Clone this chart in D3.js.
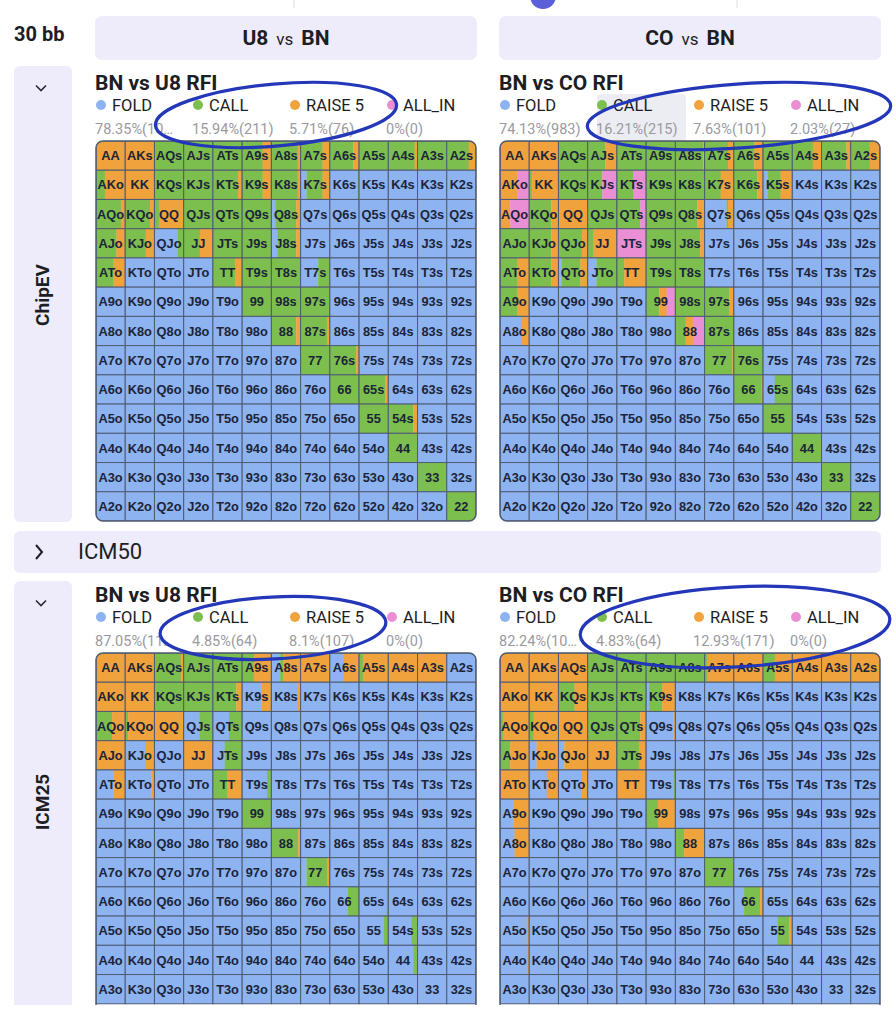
<!DOCTYPE html>
<html>
<head>
<meta charset="utf-8">
<script src="https://cdn.jsdelivr.net/npm/d3@7"></script>
<style>
  body { margin: 0; background: #fff; }
</style>
</head>
<body>
<svg id="chart"></svg>
<script>
const ranks = ["A", "K", "Q", "J", "T", "9", "8", "7", "6", "5", "4", "3", "2"];
const actions = ["FOLD", "CALL", "RAISE 5", "ALL_IN"];
const actionColors = ["#8db3f1", "#7cbf4f", "#f0a23d", "#ea8fd4"];

const stackLabel = "30 bb";
const matchups = [["U8", "BN"], ["CO", "BN"]];
const spotTitles = ["BN vs U8 RFI", "BN vs CO RFI"];
const models = ["ChipEV", "ICM50", "ICM25"];

// [hand, call, raise, allin] -- fold is whatever is left
const chipU8Mix = [
  ["AA", 0, 1, 0], ["AKs", 0, 1, 0], ["AQs", 1, 0, 0], ["AJs", 1, 0, 0], ["ATs", 1, 0, 0],
  ["A9s", .7, .3, 0], ["A8s", .9, .1, 0], ["A7s", .75, .25, 0], ["A6s", .8, .2, 0], ["A5s", 1, 0, 0],
  ["A4s", .9, .1, 0], ["A3s", 1, 0, 0], ["A2s", .75, .25, 0],
  ["AKo", .3, .7, 0], ["KK", 0, 1, 0], ["KQs", 1, 0, 0], ["KJs", 1, 0, 0], ["KTs", .85, .15, 0],
  ["K9s", .7, .3, 0], ["K8s", .9, .1, 0], ["K7s", .55, .25, 0], ["K6s", .05, 0, 0],
  ["AQo", .85, .15, 0], ["KQo", .85, .15, 0], ["QQ", .15, .85, 0], ["QJs", 1, 0, 0], ["QTs", 1, 0, 0],
  ["Q9s", 1, 0, 0], ["Q8s", .7, .15, 0],
  ["AJo", .7, .3, 0], ["KJo", .7, .3, 0], ["QJo", .2, 0, 0], ["JJ", .55, .45, 0], ["JTs", 1, 0, 0],
  ["J9s", 1, 0, 0], ["J8s", .65, .15, 0],
  ["ATo", .6, .4, 0], ["TT", .75, .25, 0], ["T9s", 1, 0, 0], ["T8s", 1, 0, 0], ["T7s", .4, 0, 0],
  ["99", 1, 0, 0], ["98s", 1, 0, 0], ["97s", 1, 0, 0],
  ["88", .85, .15, 0], ["87s", .9, .1, 0],
  ["77", 1, 0, 0], ["76s", .9, .1, 0],
  ["66", 1, 0, 0], ["65s", .9, .1, 0],
  ["55", 1, 0, 0], ["54s", .85, .15, 0],
  ["44", 1, 0, 0], ["33", 1, 0, 0], ["22", 1, 0, 0]
];

const chipCOMix = [
  ["AA", 0, 1, 0], ["AKs", 0, 1, 0], ["AQs", 1, 0, 0], ["AJs", .6, .4, 0], ["ATs", 1, 0, 0],
  ["A9s", 1, 0, 0], ["A8s", .95, .05, 0], ["A7s", .8, .2, 0], ["A6s", .7, .3, 0], ["A5s", 1, 0, 0],
  ["A4s", .7, .3, 0], ["A3s", .85, .15, 0], ["A2s", .65, .35, 0],
  ["AKo", 0, .6, .4], ["KK", .1, .9, 0], ["KQs", 1, 0, 0], ["KJs", .5, 0, .5], ["KTs", .55, 0, .45],
  ["K9s", 1, 0, 0], ["K8s", 1, 0, 0], ["K7s", .55, .45, 0], ["K6s", .8, .2, 0], ["K5s", .45, .4, 0],
  ["AQo", 0, .35, .65], ["KQo", .75, .25, 0], ["QQ", 0, 1, 0], ["QJs", 1, 0, 0], ["QTs", .8, 0, .2],
  ["Q9s", 1, 0, 0], ["Q8s", .75, .25, 0], ["Q7s", .05, .2, 0],
  ["AJo", 1, 0, 0], ["KJo", .75, .25, 0], ["QJo", .8, .2, 0], ["JJ", .2, .8, 0], ["JTs", 0, 0, 1],
  ["J9s", 1, 0, 0], ["J8s", .85, .15, 0],
  ["ATo", .6, .4, 0], ["KTo", .75, .25, 0], ["QTo", .65, .25, 0], ["JTo", .7, 0, 0], ["TT", .25, .75, 0],
  ["T9s", 1, 0, 0], ["T8s", 1, 0, 0],
  ["A9o", .6, .4, 0], ["99", .45, .25, .3], ["98s", 1, 0, 0], ["97s", .85, .15, 0],
  ["A8o", 0, .25, 0], ["88", .35, .25, .4], ["87s", 1, 0, 0],
  ["77", .95, .05, 0], ["76s", 1, 0, 0],
  ["66", .95, .05, 0], ["65s", .6, 0, 0],
  ["55", 1, 0, 0], ["44", 1, 0, 0], ["33", 1, 0, 0], ["22", 1, 0, 0]
];

const icmU8Mix = [
  ["AA", 0, 1, 0], ["AKs", 0, 1, 0], ["AQs", .9, .1, 0], ["AJs", 1, 0, 0], ["ATs", 1, 0, 0],
  ["A9s", .4, .6, 0], ["A8s", .1, .6, 0], ["A7s", 0, 1, 0], ["A6s", 0, .55, 0], ["A5s", .15, .85, 0],
  ["A4s", 0, 1, 0], ["A3s", 0, 1, 0],
  ["AKo", 0, 1, 0], ["KK", 0, 1, 0], ["KQs", 1, 0, 0], ["KJs", 1, 0, 0], ["KTs", .8, .2, 0],
  ["K9s", 0, .35, 0], ["K8s", 0, .1, 0],
  ["AQo", .55, .45, 0], ["KQo", .1, .9, 0], ["QQ", 0, 1, 0], ["QJs", .45, 0, 0], ["QTs", .45, 0, 0],
  ["AJo", 0, 1, 0], ["KJo", 0, .3, 0], ["JJ", 0, 1, 0], ["JTs", .6, 0, 0],
  ["ATo", 0, .4, 0], ["KTo", 0, .1, 0], ["TT", .5, .5, 0], ["T9s", .15, 0, 0],
  ["99", 1, 0, 0],
  ["88", .92, .08, 0],
  ["77", .72, .08, 0],
  ["66", .4, 0, 0], ["65s", .05, 0, 0],
  ["55", .15, 0, 0], ["54s", .2, 0, 0],
  ["44", .15, 0, 0]
];

const icmCOMix = [
  ["AA", 0, 1, 0], ["AKs", 0, 1, 0], ["AQs", 0, 1, 0], ["AJs", 1, 0, 0], ["ATs", 1, 0, 0],
  ["A9s", 1, 0, 0], ["A8s", 1, 0, 0], ["A7s", .1, .9, 0], ["A6s", 0, 1, 0], ["A5s", .4, .6, 0],
  ["A4s", 0, 1, 0], ["A3s", 0, 1, 0], ["A2s", 0, 1, 0],
  ["AKo", 0, 1, 0], ["KK", 0, 1, 0], ["KQs", .55, .45, 0], ["KJs", 1, 0, 0], ["KTs", 1, 0, 0],
  ["K9s", .45, .45, 0],
  ["AQo", .1, .9, 0], ["KQo", .15, .85, 0], ["QQ", 0, 1, 0], ["QJs", 1, 0, 0], ["QTs", .8, .2, 0],
  ["Q9s", 0, .07, 0],
  ["AJo", .35, .65, 0], ["KJo", 0, .75, 0], ["QJo", 0, .8, 0], ["JJ", 0, 1, 0], ["JTs", .75, .25, 0],
  ["ATo", 0, 1, 0], ["KTo", 0, .4, 0], ["QTo", 0, .2, 0], ["TT", 0, 1, 0], ["T9s", .05, 0, 0],
  ["A9o", 0, .55, 0], ["99", .4, .6, 0],
  ["A8o", 0, .5, 0], ["88", .3, .7, 0],
  ["77", 1, 0, 0],
  ["66", .55, .1, 0],
  ["A5o", 0, .08, 0], ["55", .4, .1, 0],
  ["A4o", 0, .05, 0]
];

const chipU8Pct = ["78.35%(10\u2026", "15.94%(211)", "5.71%(76)", "0%(0)"];
const chipCOPct = ["74.13%(983)", "16.21%(215)", "7.63%(101)", "2.03%(27)"];
const icmU8Pct = ["87.05%(11\u2026", "4.85%(64)", "8.1%(107)", "0%(0)"];
const icmCOPct = ["82.24%(10\u2026", "4.83%(64)", "12.93%(171)", "0%(0)"];

const W = 896, H = 1024;
const cutY = 1005; // the screenshot ends here
const lavender = "#eeecfa";
const uiFont = "Roboto, 'Noto Sans', sans-serif";
const gridSize = 380;

const svg = d3.select("#chart").attr("width", W).attr("height", H)
  .attr("viewBox", [0, 0, W, H]).style("font-family", uiFont);

const color = d3.scaleOrdinal(actions, actionColors);

// top scraps of the page above
svg.append("line").attr("x1", 294).attr("x2", 294).attr("y1", 0).attr("y2", 8).attr("stroke", "#dcdce4");
svg.append("line").attr("x1", 737).attr("x2", 737).attr("y1", 0).attr("y2", 8).attr("stroke", "#dcdce4");
svg.append("circle").attr("cx", 543).attr("cy", -4).attr("r", 13).attr("fill", "#5b5fd9");

svg.append("text").attr("x", 14).attr("y", 41).attr("font-size", 20).attr("font-weight", 700)
  .attr("fill", "#1d1d24").text(stackLabel);

// matchup header boxes
const panelX = [96, 500];
matchups.forEach((m, i) => {
  svg.append("rect").attr("x", panelX[i] - 1).attr("y", 16).attr("width", gridSize + 2).attr("height", 44)
    .attr("rx", 7).attr("fill", lavender);
  const t = svg.append("text").attr("x", panelX[i] + gridSize / 2).attr("y", 45)
    .attr("text-anchor", "middle").attr("fill", "#1d1d24");
  t.append("tspan").attr("font-size", 21).attr("font-weight", 700).text(m[0]);
  t.append("tspan").attr("font-size", 17).attr("dx", 8).text("vs");
  t.append("tspan").attr("font-size", 21).attr("font-weight", 700).attr("dx", 8).text(m[1]);
});

function chevronDown(x, y) {
  svg.append("path").attr("d", `M${x - 5},${y - 2.5}L${x},${y + 2.5}L${x + 5},${y - 2.5}`)
    .attr("fill", "none").attr("stroke", "#2a2a33").attr("stroke-width", 1.6);
}

function sideBar(y0, y1, labelY, label) {
  svg.append("rect").attr("x", 14).attr("y", y0).attr("width", 58).attr("height", y1 - y0)
    .attr("rx", 6).attr("fill", lavender);
  chevronDown(41, y0 + 22);
  svg.append("text").attr("transform", `translate(49,${labelY}) rotate(-90)`)
    .attr("text-anchor", "middle").attr("font-size", 19).attr("font-weight", 700)
    .attr("fill", "#1d1d24").text(label);
}

sideBar(66, 522, 295, models[0]);
sideBar(581, cutY + 20, 802, models[2]);

// collapsed ICM50 bar
svg.append("rect").attr("x", 14).attr("y", 531).attr("width", 867).attr("height", 42)
  .attr("rx", 6).attr("fill", lavender);
svg.append("path").attr("d", "M36,545L42,552L36,559").attr("fill", "none")
  .attr("stroke", "#1d1d24").attr("stroke-width", 2);
svg.append("text").attr("x", 78).attr("y", 559).attr("font-size", 22).attr("fill", "#1d1d24").text(models[1]);

const defs = svg.append("defs");
let clipId = 0;

function drawPanel(x0, top, title, mix, pct) {
  const g = svg.append("g");
  g.append("text").attr("x", x0 - 1).attr("y", top + 15).attr("font-size", 21).attr("font-weight", 700)
    .attr("fill", "#1d1d24").text(title);

  const legendX = d3.scalePoint().domain(actions).range([0, 291]);
  const leg = g.selectAll("g.leg").data(actions).join("g")
    .attr("transform", d => `translate(${x0 + legendX(d)},${top + 30})`);
  leg.append("circle").attr("cx", 5).attr("cy", 0).attr("r", 5).attr("fill", d => color(d));
  leg.append("text").attr("x", 16).attr("y", 6).attr("font-size", 16.5).attr("fill", "#1d1d24").text(d => d);
  leg.append("text").attr("x", -1).attr("y", 29).attr("font-size", 14.5).attr("fill", "#9a9aa0")
    .text((d, i) => pct[i]);

  const y0 = top + 66;
  const col = d3.scaleBand().domain(ranks).range([x0, x0 + gridSize]);
  const row = d3.scaleBand().domain(ranks).range([y0, y0 + gridSize]);
  const lookup = new Map(mix.map(d => [d[0], d.slice(1)]));
  const bw = col.bandwidth(), bh = row.bandwidth();

  const cells = [];
  ranks.forEach((r, i) => ranks.forEach((c, j) => {
    if (row(r) + 2 > cutY) return; // below the edge of the screenshot
    const hand = i === j ? r + c : i < j ? r + c + "s" : c + r + "o";
    const [call = 0, raise = 0, allin = 0] = lookup.get(hand) || [];
    const freqs = [Math.max(0, 1 - call - raise - allin), call, raise, allin];
    cells.push({ hand, r, c, freqs });
  }));

  const id = "gclip" + (clipId++);
  defs.append("clipPath").attr("id", id).append("rect")
    .attr("x", x0).attr("y", y0).attr("width", gridSize).attr("height", gridSize).attr("rx", 7);

  const grid = g.append("g").attr("clip-path", `url(#${id})`);

  const cell = grid.selectAll("g.cell").data(cells).join("g")
    .attr("transform", d => `translate(${col(d.c)},${row(d.r)})`);

  cell.each(function (d) {
    const fx = d3.scaleLinear().domain([0, 1]).range([0, bw]);
    const starts = [0, ...d3.cumsum(d.freqs)];
    d3.select(this).selectAll("rect.seg")
      .data(d.freqs.map((f, k) => ({ k, a: starts[k], b: starts[k] + f })).filter(s => s.b - s.a > 0))
      .join("rect").attr("class", "seg")
      .attr("x", s => fx(s.a)).attr("y", 0)
      .attr("width", s => fx(s.b) - fx(s.a) + 0.3).attr("height", bh)
      .attr("fill", s => actionColors[s.k]);
  });

  cell.append("rect").attr("width", bw).attr("height", bh)
    .attr("fill", "none").attr("stroke", "#4f5b72").attr("stroke-width", 1);

  cell.append("text").attr("x", bw / 2).attr("y", bh / 2 + 4.6).attr("text-anchor", "middle")
    .attr("font-family", "'Liberation Sans', Arial, sans-serif").attr("font-weight", 700)
    .attr("font-size", 12.8).attr("fill", "#1c2438").text(d => d.hand);

  g.append("rect").attr("x", x0).attr("y", y0).attr("width", gridSize).attr("height", gridSize)
    .attr("rx", 7).attr("fill", "none").attr("stroke", "#4f5b72").attr("stroke-width", 1.5);
}

// light highlight behind CALL in the CO chipEV panel
svg.append("rect").attr("x", 597).attr("y", 94).attr("width", 89).attr("height", 47)
  .attr("rx", 4).attr("fill", "#ececf3");

drawPanel(panelX[0], 75, spotTitles[0], chipU8Mix, chipU8Pct);
drawPanel(panelX[1], 75, spotTitles[1], chipCOMix, chipCOPct);
drawPanel(panelX[0], 587, spotTitles[0], icmU8Mix, icmU8Pct);
drawPanel(panelX[1], 587, spotTitles[1], icmCOMix, icmCOPct);

// the picture is cut off at the bottom
svg.append("rect").attr("x", 0).attr("y", cutY).attr("width", W).attr("height", H - cutY).attr("fill", "#fff");

// hand drawn marker ellipses
const marks = [[276, 115, 121, 31, -5], [739, 116, 152, 32, -4], [273, 628, 113, 31, -3], [735, 627, 155, 40, -3]];
svg.selectAll("ellipse.mark").data(marks).join("ellipse").attr("class", "mark")
  .attr("cx", 0).attr("cy", 0).attr("rx", d => d[2]).attr("ry", d => d[3])
  .attr("transform", d => `translate(${d[0]},${d[1]}) rotate(${d[4]})`)
  .attr("fill", "none").attr("stroke", "#2337b8").attr("stroke-width", 3.2);
</script>
</body>
</html>
